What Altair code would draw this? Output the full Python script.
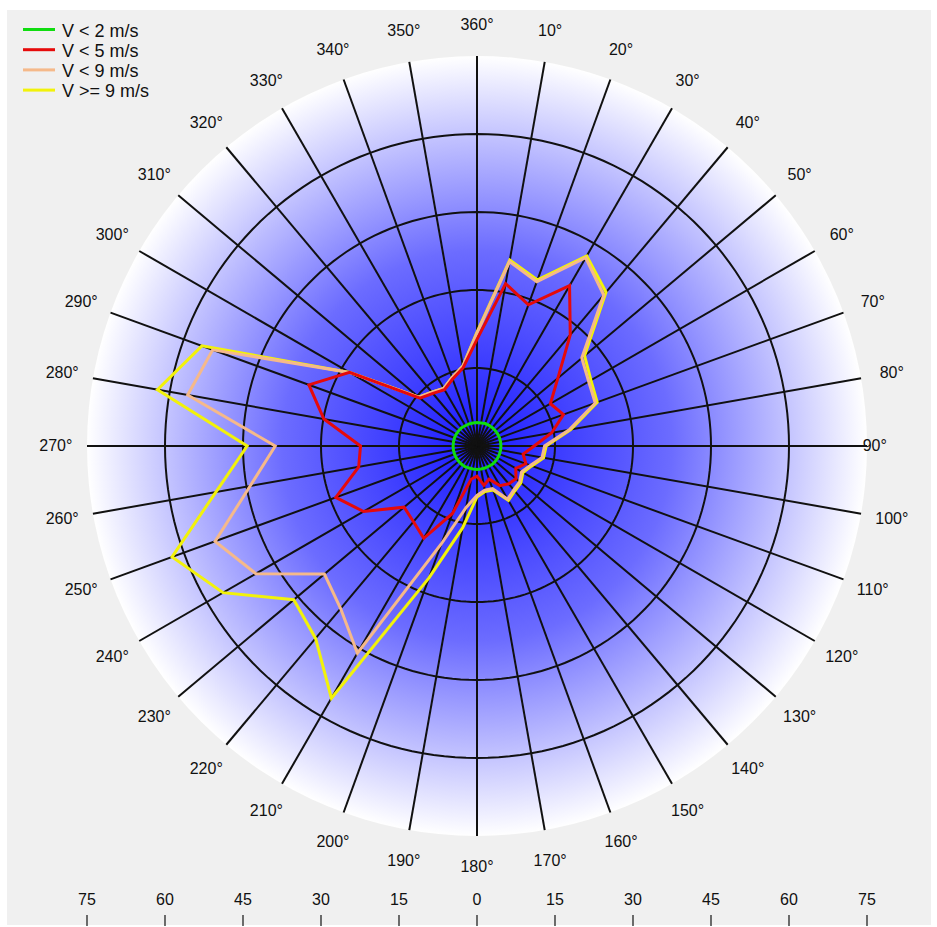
import math
import numpy as np
import pandas as pd
import altair as alt

# ---- canvas and polar frame -------------------------------------------
W, H = 937, 927
CX, CY = 477.0, 446.0      # pixel position of the rose centre
PX = 5.2                   # pixels per unit of radius
R_MAX = 75
RINGS = [15, 30, 45, 60]

FONT = "Liberation Sans Narrow, Liberation Sans, Arial, sans-serif"

# ---- data: cumulative frequency per direction (every 10 deg, from north) ---
directions = list(range(0, 360, 10))

calm = [4.5, 4.5, 4.6, 4.6, 4.6, 4.6, 4.6, 4.6, 4.6,
        4.6, 4.6, 4.6, 4.6, 4.6, 4.6, 4.5, 4.5, 4.5,
        4.5, 4.5, 4.5, 4.6, 4.6, 4.6, 4.6, 4.6, 4.6,
        4.6, 4.6, 4.6, 4.6, 4.6, 4.6, 4.5, 4.5, 4.5]

light = [20.5, 31.7, 28.9, 35.6, 27.9, 20.3, 16.3, 17.7, 14.6,
         11.0, 9.0, 10.0, 8.6, 9.8, 9.5, 8.8, 6.8, 7.7,
         5.8, 6.5, 13.8, 20.5, 19.0, 18.3, 25.2, 28.9, 23.1,
         22.4, 29.9, 34.4, 28.3, 14.3, 13.2, 12.5, 13.7, 15.3]

moderate = [21.7, 36.0, 33.6, 41.8, 37.9, 26.3, 24.8, 24.2, 18.0,
            13.0, 12.7, 10.9, 9.9, 10.7, 11.0, 11.8, 8.7, 8.6,
            9.5, 12.0, 20.0, 46.0, 40.8, 38.3, 49.1, 53.6, 44.3,
            38.8, 56.5, 54.1, 28.3, 14.6, 13.5, 12.8, 14.0, 15.6]

strong = [21.9, 36.3, 34.0, 42.2, 38.6, 27.0, 25.3, 24.6, 18.3,
          13.3, 13.0, 11.2, 10.2, 11.0, 11.3, 12.1, 9.0, 8.9,
          9.8, 16.0, 27.0, 56.0, 48.3, 46.0, 56.4, 62.4, 51.0,
          44.2, 62.4, 56.3, 28.3, 14.6, 13.5, 12.8, 14.0, 15.6]

series_names = ["\u00a0V < 2 m/s", "V < 5 m/s", "V < 9 m/s", "\u00a0V >= 9 m/s"]
series_colors = ["#10dc10", "#e60a0a", "#f5b98a", "#f2f20a"]
series_values = [calm, light, moderate, strong]

scale_ticks = [-75, -60, -45, -30, -15, 0, 15, 30, 45, 60, 75]

# ---- shared scales ------------------------------------------------------
xscale = alt.Scale(domain=[-CX / PX, (W - CX) / PX], nice=False, zero=False)
yscale = alt.Scale(domain=[-(H - CY) / PX, CY / PX], nice=False, zero=False)


def X(field):
    return alt.X(field, type="quantitative", scale=xscale, axis=None)


def Y(field):
    return alt.Y(field, type="quantitative", scale=yscale, axis=None)


def polar_frame(values, name):
    ang = np.radians(directions + [directions[0]])
    r = np.array(list(values) + [values[0]])
    return pd.DataFrame({"series": name, "step": np.arange(len(r)),
                         "x": r * np.sin(ang), "y": r * np.cos(ang)})


one = pd.DataFrame({"x": [0.0], "y": [0.0]})

# grey panel
panel = alt.Chart(one).mark_rect(color="#f0f0f0").encode(
    x=alt.value(7), x2=alt.value(931), y=alt.value(10), y2=alt.value(925))

# radial blue-to-white disc
disc = alt.Chart(one).mark_arc(
    radius=R_MAX * PX, theta=0, theta2=2 * math.pi,
    fill=alt.RadialGradient(
        gradient="radial",
        stops=[alt.GradientStop(color="#1a1aff", offset=0),
               alt.GradientStop(color="#6c6cff", offset=0.5),
               alt.GradientStop(color="#ffffff", offset=1)],
        x1=0.5, y1=0.5, r1=0, x2=0.5, y2=0.5, r2=0.5),
).encode(x=X("x"), y=Y("y"))

# spokes every 10 degrees
sp_ang = np.radians(directions)
spokes_df = pd.DataFrame({"x0": 0.0, "y0": 0.0,
                          "x1": R_MAX * np.sin(sp_ang), "y1": R_MAX * np.cos(sp_ang)})
spokes = alt.Chart(spokes_df).mark_rule(color="#111111", strokeWidth=2).encode(
    x=X("x0"), y=Y("y0"), x2="x1", y2="y1")

# concentric rings
ring_rows = []
for rr in RINGS:
    for k, a in enumerate(range(0, 361, 2)):
        t = math.radians(a)
        ring_rows.append({"ring": rr, "k": k, "x": rr * math.sin(t), "y": rr * math.cos(t)})
rings = alt.Chart(pd.DataFrame(ring_rows)).mark_line(color="#111111", strokeWidth=2).encode(
    x=X("x"), y=Y("y"), detail="ring:N", order="k:Q")

# direction labels
lab_r = [76.5 if d == 90 else 81 for d in directions]
lab_dirs = [d if d else 360 for d in directions]
lab_df = pd.DataFrame({
    "text": [f"{d}\u00b0" for d in lab_dirs],
    "x": [r * math.sin(math.radians(d)) for r, d in zip(lab_r, directions)],
    "y": [r * math.cos(math.radians(d)) for r, d in zip(lab_r, directions)],
})
dir_labels = alt.Chart(lab_df).mark_text(
    font=FONT, fontSize=16, color="#111111", align="center", baseline="middle"
).encode(x=X("x"), y=Y("y"), text="text:N")

# rose polygons, outermost first
lines = []
for name, color, vals in reversed(list(zip(series_names, series_colors, series_values))):
    lines.append(
        alt.Chart(polar_frame(vals, name)).mark_line(color=color, strokeWidth=3).encode(
            x=X("x"), y=Y("y"), order="step:Q"))

# radius scale along the bottom
tick_df = pd.DataFrame({"v": scale_ticks, "label": [str(abs(v)) for v in scale_ticks]})
scale_marks = alt.Chart(tick_df).mark_rule(color="#111111", strokeWidth=1.2).encode(
    x=X("v"), y=alt.value(915), y2=alt.value(926))
scale_text = alt.Chart(tick_df).mark_text(
    font=FONT, fontSize=16, color="#111111", align="center", baseline="middle"
).encode(x=X("v"), y=alt.value(900), text="label:N")

# legend
leg_df = pd.DataFrame({"name": series_names, "color": series_colors,
                       "row": list(range(len(series_names)))})
leg_df["py"] = 29.5 + 20.2 * leg_df["row"]
leg_lines = alt.Chart(leg_df).mark_rule(strokeWidth=3).encode(
    x=alt.value(23), x2=alt.value(55),
    y=alt.Y("py:Q", scale=None, axis=None),
    color=alt.Color("color:N", scale=None))
leg_text = alt.Chart(leg_df).mark_text(
    font=FONT, fontSize=18, color="#111111", align="left", baseline="middle", dy=2
).encode(x=alt.value(62), y=alt.Y("py:Q", scale=None, axis=None), text="name:N")

chart = alt.layer(
    panel, disc, spokes, rings, *lines, dir_labels, scale_marks, scale_text,
    leg_lines, leg_text
).resolve_scale(y="independent").properties(
    width=W, height=H, padding=0, autosize="none", background="white"
).configure_view(stroke=None)

chart.save("out.html", embed_options={"renderer": "svg", "actions": False})
